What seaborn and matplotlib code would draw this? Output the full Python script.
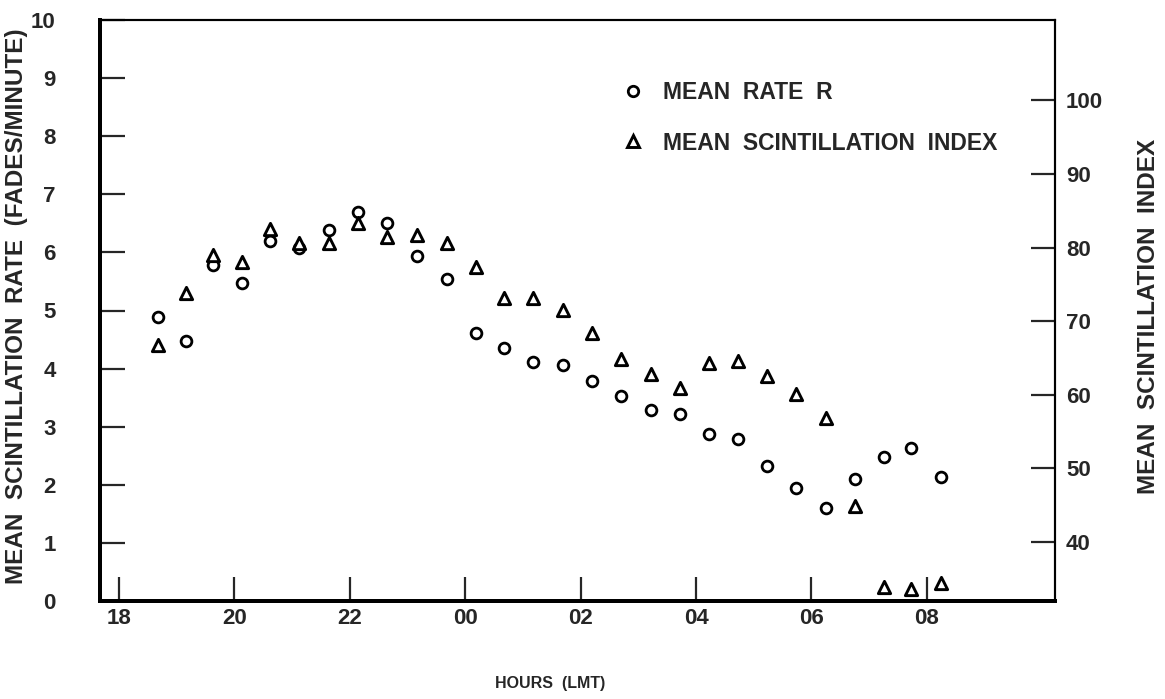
import matplotlib
matplotlib.use("Agg")
import matplotlib.pyplot as plt
from matplotlib.lines import Line2D
import seaborn as sns
import pandas as pd

# Local mean time in hours (values past 24 continue after midnight)
hours = [18.68, 19.16, 19.63, 20.13, 20.62, 21.12, 21.64, 22.14, 22.64, 23.16,
         23.68, 24.19, 24.67, 25.18, 25.69, 26.20, 26.70, 27.22, 27.72, 28.23,
         28.73, 29.23, 29.73, 30.25, 30.76, 31.26, 31.73, 32.25]

# Mean scintillation rate R (fades/minute), left axis
mean_rate = [4.88, 4.48, 5.79, 5.48, 6.19, 6.07, 6.38, 6.69, 6.50, 5.93,
             5.55, 4.62, 4.36, 4.12, 4.07, 3.78, 3.53, 3.29, 3.22, 2.88,
             2.78, 2.33, 1.95, 1.60, 2.10, 2.48, 2.64, 2.14]

# Mean scintillation index, right axis
mean_index = [66.7, 73.8, 79.0, 78.0, 82.5, 80.6, 80.6, 83.3, 81.4, 81.7,
              80.6, 77.3, 73.2, 73.2, 71.5, 68.4, 64.8, 62.8, 60.9, 64.3,
              64.6, 62.5, 60.1, 56.8, 44.9, 33.9, 33.6, 34.4]

hour_ticks = [18, 20, 22, 24, 26, 28, 30, 32]
hour_labels = ["18", "20", "22", "00", "02", "04", "06", "08"]
rate_ticks = list(range(0, 11))
index_ticks = [40, 50, 60, 70, 80, 90, 100]

sns.set_style("white")
plt.rcParams["font.family"] = ["Liberation Sans", "DejaVu Sans"]
plt.rcParams["font.weight"] = "bold"

df = pd.DataFrame({"hours": hours, "rate": mean_rate, "index": mean_index})

fig = plt.figure(figsize=(11.65, 6.99), dpi=100)
ax = fig.add_axes([100 / 1165, 1 - 601 / 699, 955 / 1165, 581 / 699])
ax2 = ax.twinx()

sns.scatterplot(data=df, x="hours", y="rate", ax=ax, marker="o", s=60,
                facecolor="white", edgecolor="black", linewidth=2.0, zorder=3)
sns.scatterplot(data=df, x="hours", y="index", ax=ax2, marker="^", s=78,
                facecolor="white", edgecolor="black", linewidth=2.1, zorder=3)

ax.set_xlim(17.67, 34.22)
ax.set_ylim(0, 10)
ax2.set_ylim(32.0, 110.9)

ax.set_xticks(hour_ticks)
ax.set_xticklabels(hour_labels)
ax.set_yticks(rate_ticks)
ax2.set_yticks(index_ticks)

tick_font = 16
ax.tick_params(axis="x", direction="in", length=17, width=1.6, pad=5,
               labelsize=tick_font, bottom=True)
ax.tick_params(axis="y", direction="in", length=18, width=1.6, pad=32,
               labelsize=tick_font, left=True)
ax2.tick_params(axis="y", direction="in", length=17, width=1.6, pad=8,
                labelsize=tick_font, right=True)
for lab in ax.get_xticklabels() + ax.get_yticklabels() + ax2.get_yticklabels():
    lab.set_fontweight("bold")
for lab in ax.get_yticklabels():
    lab.set_horizontalalignment("right")

for a in (ax, ax2):
    for side, sp in a.spines.items():
        sp.set_color("black")
        sp.set_visible(True)
        sp.set_linewidth(2.8 if side in ("left", "bottom") else 1.5)

ax.set_xlabel("HOURS  (LMT)", fontsize=11.5, fontweight="bold")
ax.xaxis.set_label_coords((550 - 100) / 955, -75 / 581)
ax.set_ylabel("MEAN  SCINTILLATION  RATE  (FADES/MINUTE)", fontsize=17.5,
              fontweight="bold")
ax.yaxis.set_label_coords((28 - 100) / 955, (601 - 306) / 581)
ax2.set_ylabel("MEAN  SCINTILLATION  INDEX", fontsize=17.5, fontweight="bold",
               rotation=90)
ax2.yaxis.set_label_coords((1137 - 100) / 955, (601 - 316) / 581)

handles = [
    Line2D([], [], linestyle="none", marker="o", markersize=7.5,
           markerfacecolor="white", markeredgecolor="black", markeredgewidth=2.0),
    Line2D([], [], linestyle="none", marker="^", markersize=8.5,
           markerfacecolor="white", markeredgecolor="black", markeredgewidth=2.1),
]
leg = ax.legend(handles=handles,
                labels=["MEAN  RATE  R", "MEAN  SCINTILLATION  INDEX"],
                loc="upper left", bbox_to_anchor=((624 - 100) / 955, (601 - 81) / 581),
                frameon=False, fontsize=16.5, handlelength=0.8,
                handletextpad=0.9, labelspacing=1.2, borderpad=0,
                borderaxespad=0)
for t in leg.get_texts():
    t.set_fontweight("bold")

fig.savefig("out.png", dpi=100)
